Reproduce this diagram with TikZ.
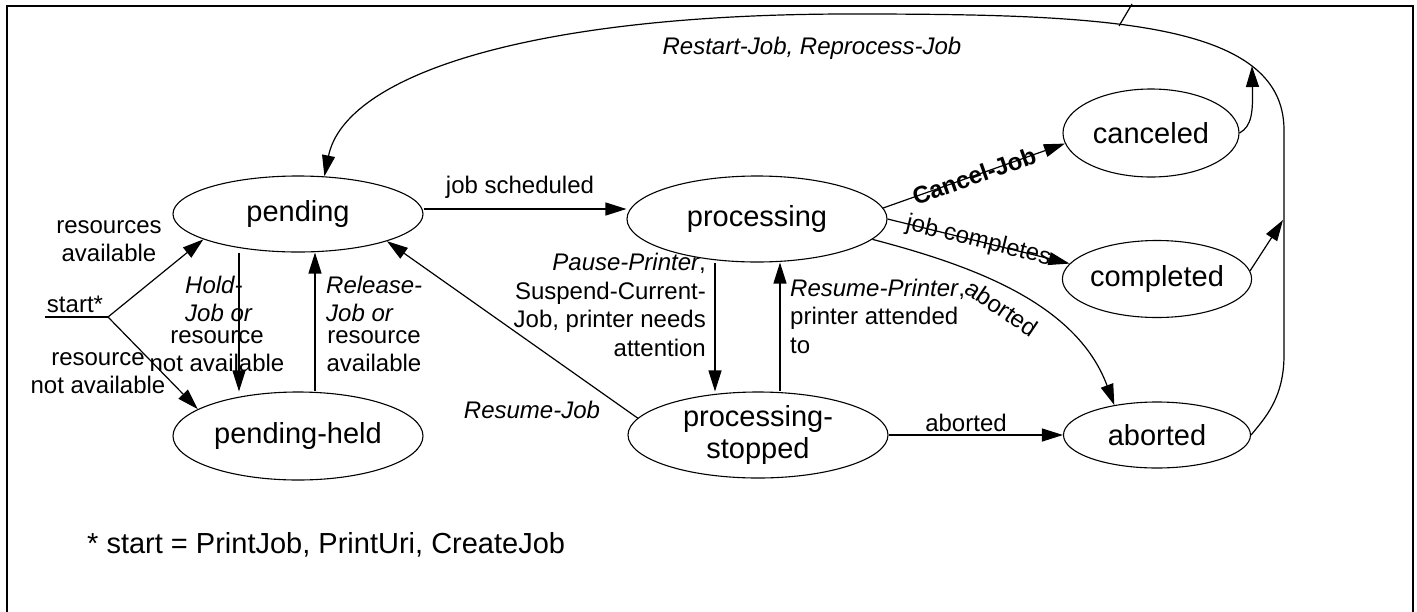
\documentclass[tikz,border=0pt]{standalone}
\usepackage{fontspec}
\setmainfont{Liberation Sans}
\usetikzlibrary{shapes.geometric,arrows.meta}
\begin{document}
\begin{tikzpicture}[x=1pt,y=-1pt,
  state/.style={draw,ellipse,line width=1.1pt,inner sep=0pt,align=center,font=\fontsize{29}{32}\selectfont},
  lbl/.style={inner sep=0pt,font=\fontsize{24}{28.5}\selectfont},
  lblit/.style={inner sep=0pt,font=\fontsize{24}{28.5}\selectfont\itshape},
  arr/.style={line width=1.2pt,-{Triangle[length=21pt,width=13pt]}},
  wire/.style={line width=1.2pt}]
\useasboundingbox (0,0) rectangle (1417,611);
% frame
\draw[line width=2.5pt] (7,640) -- (7,6) -- (1413,6) -- (1413,640);

% states
\node[state,minimum width=250pt,minimum height=76pt] (pending) at (298,214) {pending};
\node[state,minimum width=250pt,minimum height=88pt] (pending-held) at (298,436) {pending-held};
\node[state,minimum width=260pt,minimum height=86pt] (processing) at (757,219) {processing};
\node[state,minimum width=260pt,minimum height=86pt] (processing-stopped) at (758,435) {processing-\\stopped};
\node[state,minimum width=176pt,minimum height=88pt] (canceled) at (1151,133) {canceled};
\node[state,minimum width=187pt,minimum height=77pt] (completed) at (1157,279) {completed};
\node[state,minimum width=187pt,minimum height=66pt] (aborted) at (1157,435) {aborted};

% helper coordinates
\coordinate (s0) at (45,317);
\coordinate (s1) at (108,317);
\coordinate (hx) at (239,0);
\coordinate (rx) at (315,0);
\coordinate (px) at (715,0);
\coordinate (qx) at (780,0);
\coordinate (ctip) at (1252,66);
\coordinate (mtip) at (1283,220);

% start
\draw[wire] (s0) -- (s1);
\draw[arr] (s1) -- (pending.195);
\draw[arr] (s1) -- (pending-held.165);
\node[lbl] (l-start) at (75,304) {start*};
\node[lbl,align=center] (l-resav) at (109,241) {resources\\available};
\node[lbl,align=center] (l-resnot) at (98,373) {resource\\not available};

% hold / release
\draw[arr] (pending.south -| hx) -- (pending-held.north -| hx);
\draw[arr] (pending-held.north -| rx) -- (pending.south -| rx);
\node[lblit,align=left,anchor=west] (l-hold) at (185,299) {Hold-\\Job or};
\node[lbl,align=center] (l-hold2) at (217,351) {resource\\not available};
\node[lblit,align=left,anchor=west] (l-rel) at (326,299) {Release-\\Job or};
\node[lbl,align=center] (l-rel2) at (374,351) {resource\\available};

% job scheduled
\draw[arr] ([yshift=5pt]pending.east) -- ([yshift=10pt]processing.west);
\node[lbl] (l-sched) at (520,187) {job scheduled};

% resume job
\draw[arr] (processing-stopped.172) -- (pending.343);
\node[lblit] (l-resjob) at (532,410) {Resume-Job};

% pause / resume printer
\draw[arr] (processing.south -| px) -- (processing-stopped.north -| px);
\draw[arr] (processing-stopped.north -| qx) -- (processing.south -| qx);
\node[lbl,align=right,anchor=east] (l-pause) at (706,305) {\textit{Pause-Printer},\\Suspend-Current-\\Job, printer needs\\attention};
\node[lbl,align=left,anchor=west] (l-resp) at (790,316) {\textit{Resume-Printer},\\printer attended\\to};

% to final states
\draw[arr] (processing.5) -- (canceled.187)
  node[midway,sloped,inner sep=0pt,font=\fontsize{24}{28.5}\selectfont\bfseries] (l-cancel) {Cancel-Job};
\draw[arr] (processing.east) -- (completed.170)
  node[midway,sloped,lbl] (l-compl) {job completes};
\draw[arr] (processing.-10) .. controls (970,265) and (1076,302) .. (aborted.145);
\node[lbl,rotate=-34] (l-ab1) at (1002,308) {aborted};
\draw[arr] (processing-stopped.east) -- (aborted.west);
\node[lbl] (l-ab2) at (966,423) {aborted};

% restart loop
\draw[arr] (canceled.east) .. controls (1252,126) and (1253,112) .. (ctip);
\draw[arr] (completed.5) -- (mtip);
\draw[arr] (aborted.east) .. controls (1265,418) and (1284,398) .. (1284,355)
  -- (1284,130) .. controls (1284,20) and (1100,14) .. (850,14)
  .. controls (530,14) and (345,75) .. (pending.55);
\draw[wire] (1132,4) -- (1119,26);
\node[lblit] (l-restart) at (812,48) {Restart-Job, Reprocess-Job};

% footnote
\node[inner sep=0pt,anchor=west,font=\fontsize{29}{32}\selectfont] (foot) at (87,545) {* start = PrintJob, PrintUri, CreateJob};
\end{tikzpicture}
\end{document}
